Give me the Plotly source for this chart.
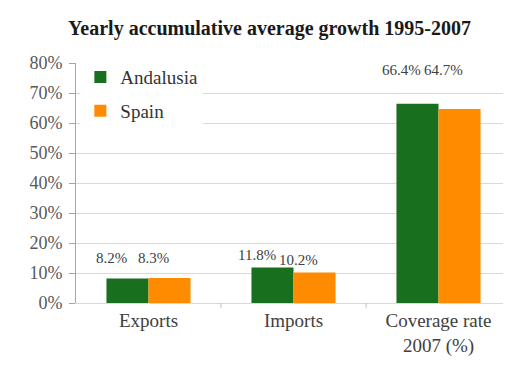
import plotly.graph_objects as go

categories = ["Exports", "Imports", "Coverage rate<br>2007 (%)"]
andalusia = [8.2, 11.8, 66.4]
spain = [8.3, 10.2, 64.7]
tick_vals = [0, 10, 20, 30, 40, 50, 60, 70, 80]
tick_text = [f"{v}%" for v in tick_vals]

GREEN = "#186F1E"
ORANGE = "#FF8C00"
SERIF = "Liberation Serif"

# page body has an 8px default margin, so the figure is sized to fit inside it
W, H = 503, 359

fig = go.Figure()
fig.add_trace(go.Bar(name="Andalusia", x=categories, y=andalusia, legendgroup="a",
                     marker=dict(color=GREEN, line=dict(width=0))))
fig.add_trace(go.Bar(name="Spain", x=categories, y=spain, legendgroup="s",
                     marker=dict(color=ORANGE, line=dict(width=0))))

# data labels (pixel offsets are layout styling only)
label_dx = [-37, 5]
label_yshift = [[20, 13, 34], [20, 12, 39]]
for s, vals in enumerate([andalusia, spain]):
    for i, (c, v) in enumerate(zip(categories, vals)):
        fig.add_annotation(x=c, y=v, text=f"{v}%", showarrow=False,
                           xshift=label_dx[s], yshift=label_yshift[s][i], yanchor="middle",
                           font=dict(family=SERIF, size=15, color="#404040"))

fig.add_shape(type="line", xref="paper", yref="paper", x0=-0.163, x1=-0.163,
              y0=-0.5, y1=1.5, line=dict(color="#d0d0d0", width=1))

fig.update_layout(
    width=W, height=H,
    margin=dict(l=68, r=0, t=55, b=64),
    paper_bgcolor="white", plot_bgcolor="white",
    barmode="group", bargap=0.42, bargroupgap=0,
    title=dict(text="<b>Yearly accumulative average growth 1995-2007</b>",
               x=0.52, xanchor="center", y=0.945, yanchor="middle",
               font=dict(family=SERIF, size=20, color="#1a1a1a")),
    legend=dict(x=0.01, y=1.02, xanchor="left", yanchor="top",
                bgcolor="white", font=dict(family=SERIF, size=19, color="#333333"),
                itemwidth=30, traceorder="grouped", tracegroupgap=6),
    showlegend=True,
    font=dict(family=SERIF),
)
fig.update_yaxes(range=[0, 80], tickvals=tick_vals, ticktext=tick_text,
                 showgrid=True, gridcolor="#d9d9d9", gridwidth=1,
                 showline=True, linecolor="#a6a6a6", linewidth=1,
                 ticks="outside", ticklen=6, tickcolor="#a6a6a6",
                 ticklabelstandoff=3,
                 zeroline=False,
                 tickfont=dict(family=SERIF, size=18, color="#595959"))
fig.update_xaxes(showline=True, linecolor="#d9d9d9", linewidth=1,
                 ticks="", showgrid=False,
                 tickfont=dict(family=SERIF, size=19, color="#404040"))
for xv in [0.5, 1.5]:
    fig.add_shape(type="line", xref="x", yref="paper", x0=xv, x1=xv, y0=0, y1=-0.02,
                  line=dict(color="#bfbfbf", width=1))

fig.write_html("out.html")
